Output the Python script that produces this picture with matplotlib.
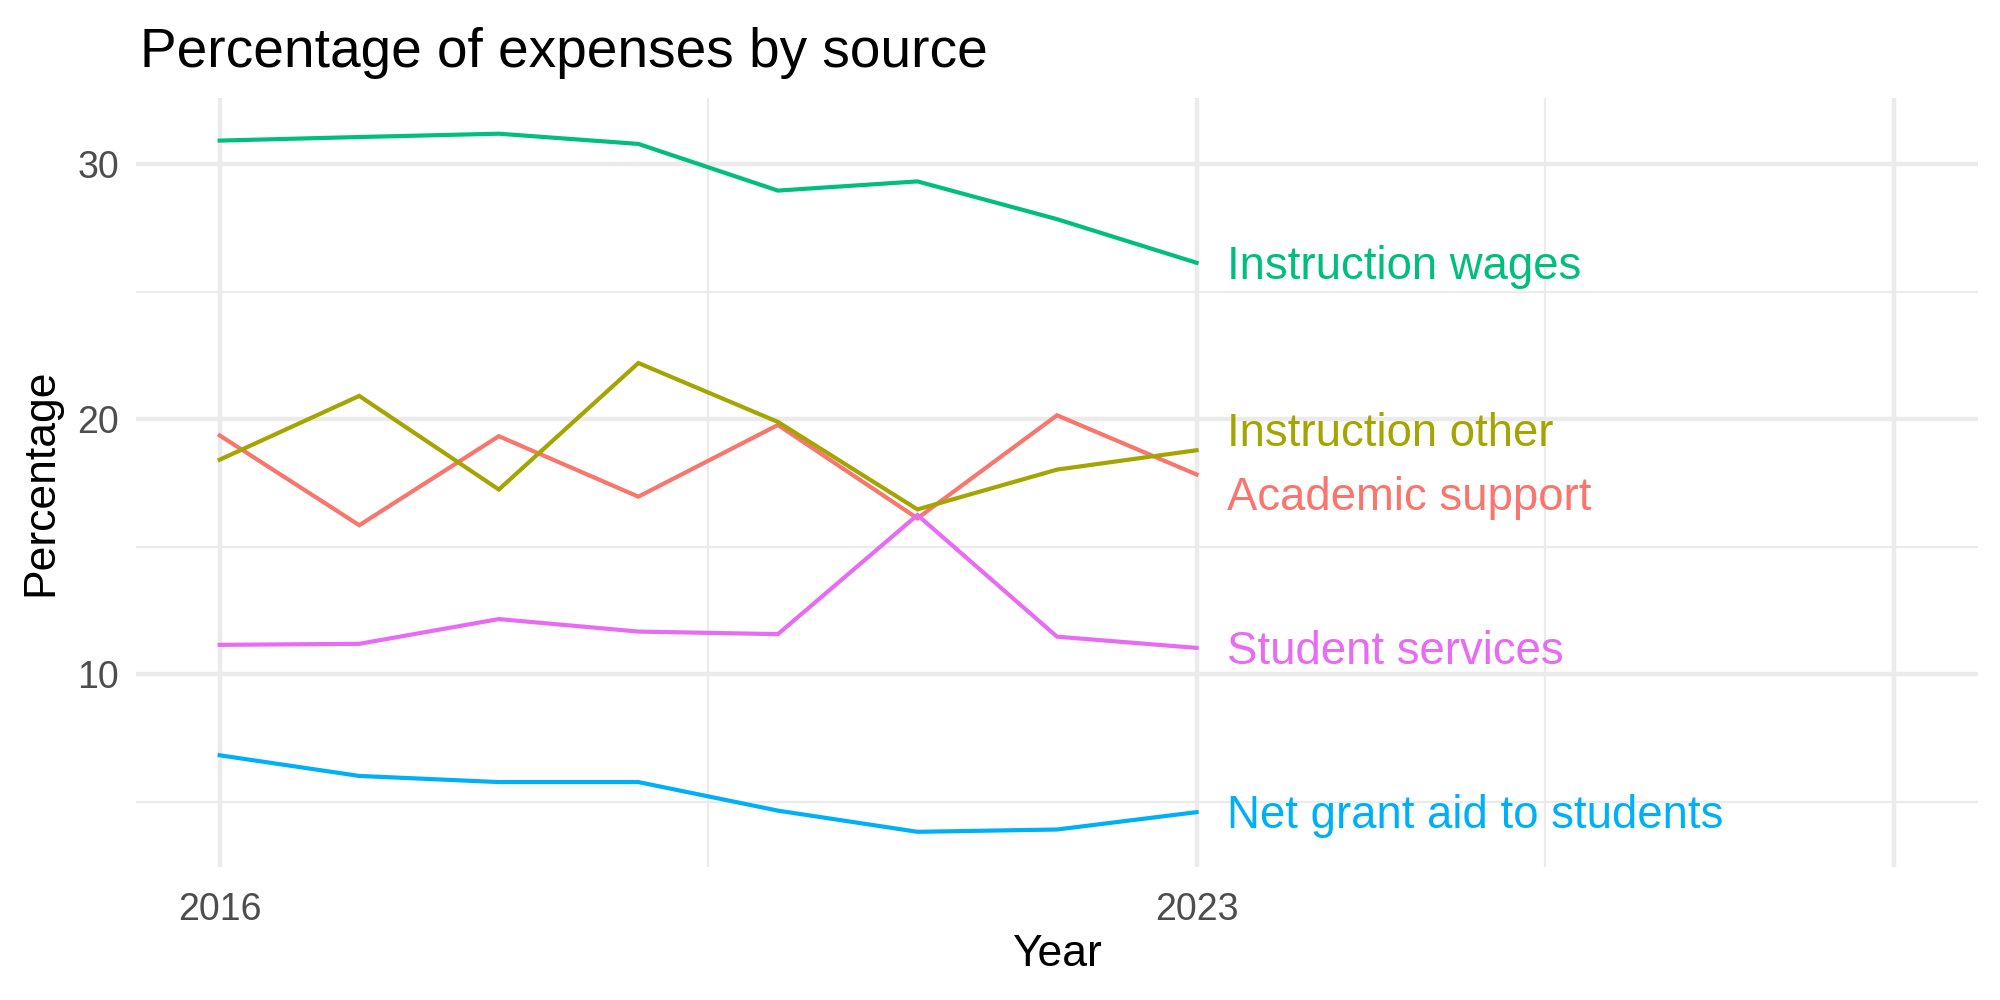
import numpy as np
import matplotlib.pyplot as plt

# データ
years = [2016, 2017, 2018, 2019, 2020, 2021, 2022, 2023]
academic_support = [19.37, 15.85, 19.34, 16.97, 19.78, 16.12, 20.16, 17.84]
instruction_other = [18.42, 20.92, 17.25, 22.21, 19.90, 16.47, 18.03, 18.79]
instruction_wages = [30.93, 31.07, 31.20, 30.80, 28.97, 29.33, 27.85, 26.14]
net_grant_aid = [6.83, 6.02, 5.78, 5.78, 4.66, 3.83, 3.92, 4.60]
student_services = [11.16, 11.20, 12.17, 11.68, 11.58, 16.25, 11.48, 11.04]

series_names = ["Academic support", "Instruction other", "Instruction wages",
                "Net grant aid to students", "Student services"]
series_values = [academic_support, instruction_other, instruction_wages,
                 net_grant_aid, student_services]
colors = ["#F8766D", "#A3A500", "#00BF7D", "#00B0F6", "#E76BF3"]

x_breaks = [2016, 2023, 2028]
x_labels = ["2016", "2023", ""]
y_breaks = [10, 20, 30]


def repel(ys, min_gap):
    """ラベル同士が重ならないように縦方向にずらす"""
    order = np.argsort(ys)
    out = np.array(ys, dtype=float)
    for _ in range(50):
        moved = False
        for a, b in zip(order[:-1], order[1:]):
            gap = out[b] - out[a]
            if gap < min_gap:
                shift = (min_gap - gap) / 2
                out[a] -= shift
                out[b] += shift
                moved = True
        if not moved:
            break
    return out


def main():
    plt.rcParams["font.family"] = ["Liberation Sans", "DejaVu Sans"]

    fig = plt.figure(figsize=(10, 5), dpi=200)
    ax = fig.add_axes([0.068, 0.133, 0.921, 0.769])

    for name, vals, c in zip(series_names, series_values, colors):
        ax.plot(years, vals, color=c, linewidth=1.5, solid_joinstyle="miter", zorder=3)

    # 右端ラベル
    last = [v[-1] for v in series_values]
    label_y = repel(last, 2.5)
    for name, y, c in zip(series_names, label_y, colors):
        ax.text(years[-1] + 0.22, y - 0.15, name, color=c, fontsize=16.4,
                ha="left", va="center", zorder=4)

    # 軸範囲
    ax.set_xlim(2015.4, 2028.6)
    ax.set_ylim(2.45, 32.6)

    # グリッド
    ax.set_xticks(x_breaks)
    ax.set_xticklabels(x_labels)
    ax.set_xticks([2019.5, 2025.5], minor=True)
    ax.set_yticks(y_breaks)
    ax.set_yticks([5, 15, 25], minor=True)
    ax.grid(which="major", color="#EBEBEB", linewidth=1.6, zorder=0)
    ax.grid(which="minor", color="#EBEBEB", linewidth=0.8, zorder=0)
    ax.set_axisbelow(True)

    for s in ax.spines.values():
        s.set_visible(False)
    ax.tick_params(which="both", length=0, labelsize=13.5, labelcolor="#4D4D4D")
    ax.tick_params(axis="x", pad=9)
    ax.tick_params(axis="y", pad=6)

    ax.set_xlabel("Year", fontsize=16, labelpad=2)
    ax.set_ylabel("Percentage", fontsize=16, labelpad=6)
    ax.set_title("Percentage of expenses by source", fontsize=19.8, loc="left",
                 x=0.002, pad=11)

    fig.savefig("out.png", dpi=200)


if __name__ == '__main__':
    main()
